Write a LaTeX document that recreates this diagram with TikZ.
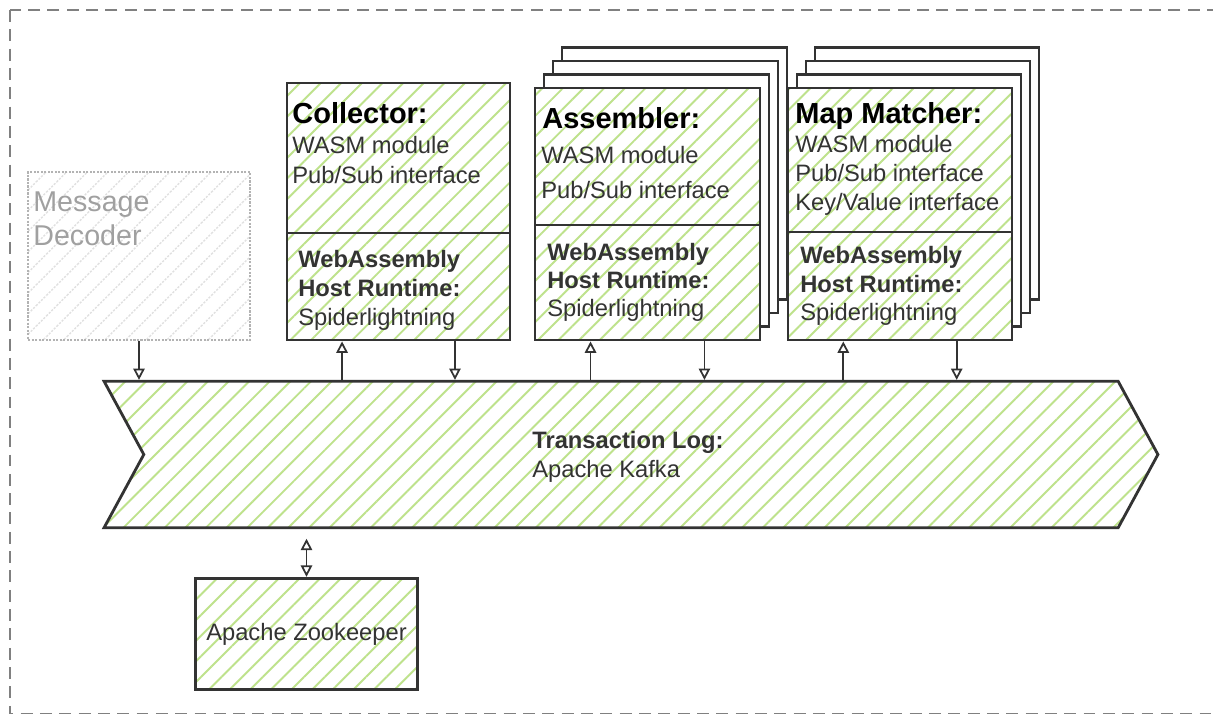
\documentclass[tikz,border=0pt]{standalone}
\usepackage{fontspec}
\setmainfont{Liberation Sans}
\usetikzlibrary{arrows.meta,positioning,fit,calc,shapes.symbols,patterns.meta}

\definecolor{hatch}{RGB}{190,226,140}
\definecolor{ink}{RGB}{51,51,51}
\definecolor{faint}{RGB}{160,160,160}

\begin{document}
\begin{tikzpicture}
		[
			x=0.02cm, y=-0.02cm,
			frame/.style={draw=black!50, line width=1.5pt, dash pattern=on 6.8pt off 4.2pt},
			box/.style={draw=ink, line width=1.6pt, inner sep=0pt, preaction={fill=white},
				pattern={Lines[angle=45,distance=8.3pt,line width=1.1pt]}, pattern color=hatch},
			sheet/.style={draw=ink, line width=1.6pt, fill=white},
			ghost/.style={draw=faint!80, line width=1.2pt, inner sep=0pt, dash pattern=on 1.2pt off 0.8pt,
				pattern={Lines[angle=45,distance=8.3pt,line width=0.8pt]}, pattern color=black!12},
			title/.style={anchor=base west, inner sep=0pt, font=\fontsize{16.5}{20}\selectfont\bfseries},
			body/.style={anchor=north west, inner sep=0pt, align=left, text=ink, font=\fontsize{13.5}{#1}\selectfont},
			body/.default=17pt,
			flow/.style={-{Triangle[open,length=6.5pt,width=6.5pt]}, line width=1pt, draw=ink},
			both/.style={flow, {Triangle[open,length=6.5pt,width=6.5pt]}-{Triangle[open,length=6.5pt,width=6.5pt]}}
		]

		\useasboundingbox (0,0) rectangle (1213,713);
		\draw[frame] (10,10) rectangle (1214.5,714.5);

		% message decoder
		\node[ghost, fit={(28,172) (250,340)}] (dec) {};
		\node[body, text=faint, font=\fontsize{16.3}{19.8}\selectfont] (dec-txt) at ( 33, 191) {Message\\Decoder};

		% collector
		\node[box, fit={(287, 83) (510,233)}] (col-top)  {};
		\node[box, fit={(287,233) (510,340)}] (col-host) {};
		\node[title]       (col-name) at (292,123) {Collector:};
		\node[body]        (col-txt)  at (292,136) {WASM module\\Pub/Sub interface};
		\node[body=16.5pt] (col-rt)   at (298,250) {\textbf{WebAssembly}\\\textbf{Host Runtime:}\\Spiderlightning};

		% assembler
		\foreach \k in {3,2,1}
			\draw[sheet] (535+9*\k,88-13.5*\k) rectangle (760+9*\k,340-13.5*\k);
		\node[box, fit={(535, 88) (760,225)}] (asm-top)  {};
		\node[box, fit={(535,225) (760,340)}] (asm-host) {};
		\node[title]       (asm-name) at (542,129) {Assembler:};
		\node[body=19.8pt] (asm-txt)  at (541,146) {WASM module\\Pub/Sub interface};
		\node[body=16pt]   (asm-rt)   at (547,243) {\textbf{WebAssembly}\\\textbf{Host Runtime:}\\Spiderlightning};

		% map matcher
		\foreach \k in {3,2,1}
			\draw[sheet] (788+9*\k,88-13.5*\k) rectangle (1012+9*\k,340-13.5*\k);
		\node[box, fit={(788, 88) (1012,232)}] (map-top)  {};
		\node[box, fit={(788,232) (1012,340)}] (map-host) {};
		\node[title]       (map-name) at (795,123) {Map Matcher:};
		\node[body=16.4pt] (map-txt)  at (795,135) {WASM module\\Pub/Sub interface\\Key/Value interface};
		\node[body=16.2pt] (map-rt)   at (800,246) {\textbf{WebAssembly}\\\textbf{Host Runtime:}\\Spiderlightning};

		% transaction log
		\node[box, signal, signal from=west, signal to=east, signal pointer angle=123,
			minimum width=599.8pt, minimum height=83.3pt] (log) at (631,454.5) {};
		\node[body=16.7pt] (log-txt) at (532,430.5) {\textbf{Transaction Log:}\\Apache Kafka};

		% zookeeper
		\node[box, minimum width=126.4pt, minimum height=63.5pt, text=ink,
			font=\fontsize{13.5}{16}\selectfont] (zk) at (306.5,634) {Apache Zookeeper};

		% connectors
		\foreach \m in {col,asm,map}
		{
			\coordinate (\m-in)  at ($(\m-host.south west)!0.25!(\m-host.south east)$);
			\coordinate (\m-out) at ($(\m-host.south west)!0.75!(\m-host.south east)$);
			\draw[flow] (log.north -| \m-in) -- (\m-in);
			\draw[flow] (\m-out) -- (log.north -| \m-out);
		}
		\draw[flow] (dec.south) -- (log.north -| dec.south);
		\draw[both, shorten <=5.5pt] (log.south -| zk.north) -- (zk.north);

	\end{tikzpicture}
\end{document}
